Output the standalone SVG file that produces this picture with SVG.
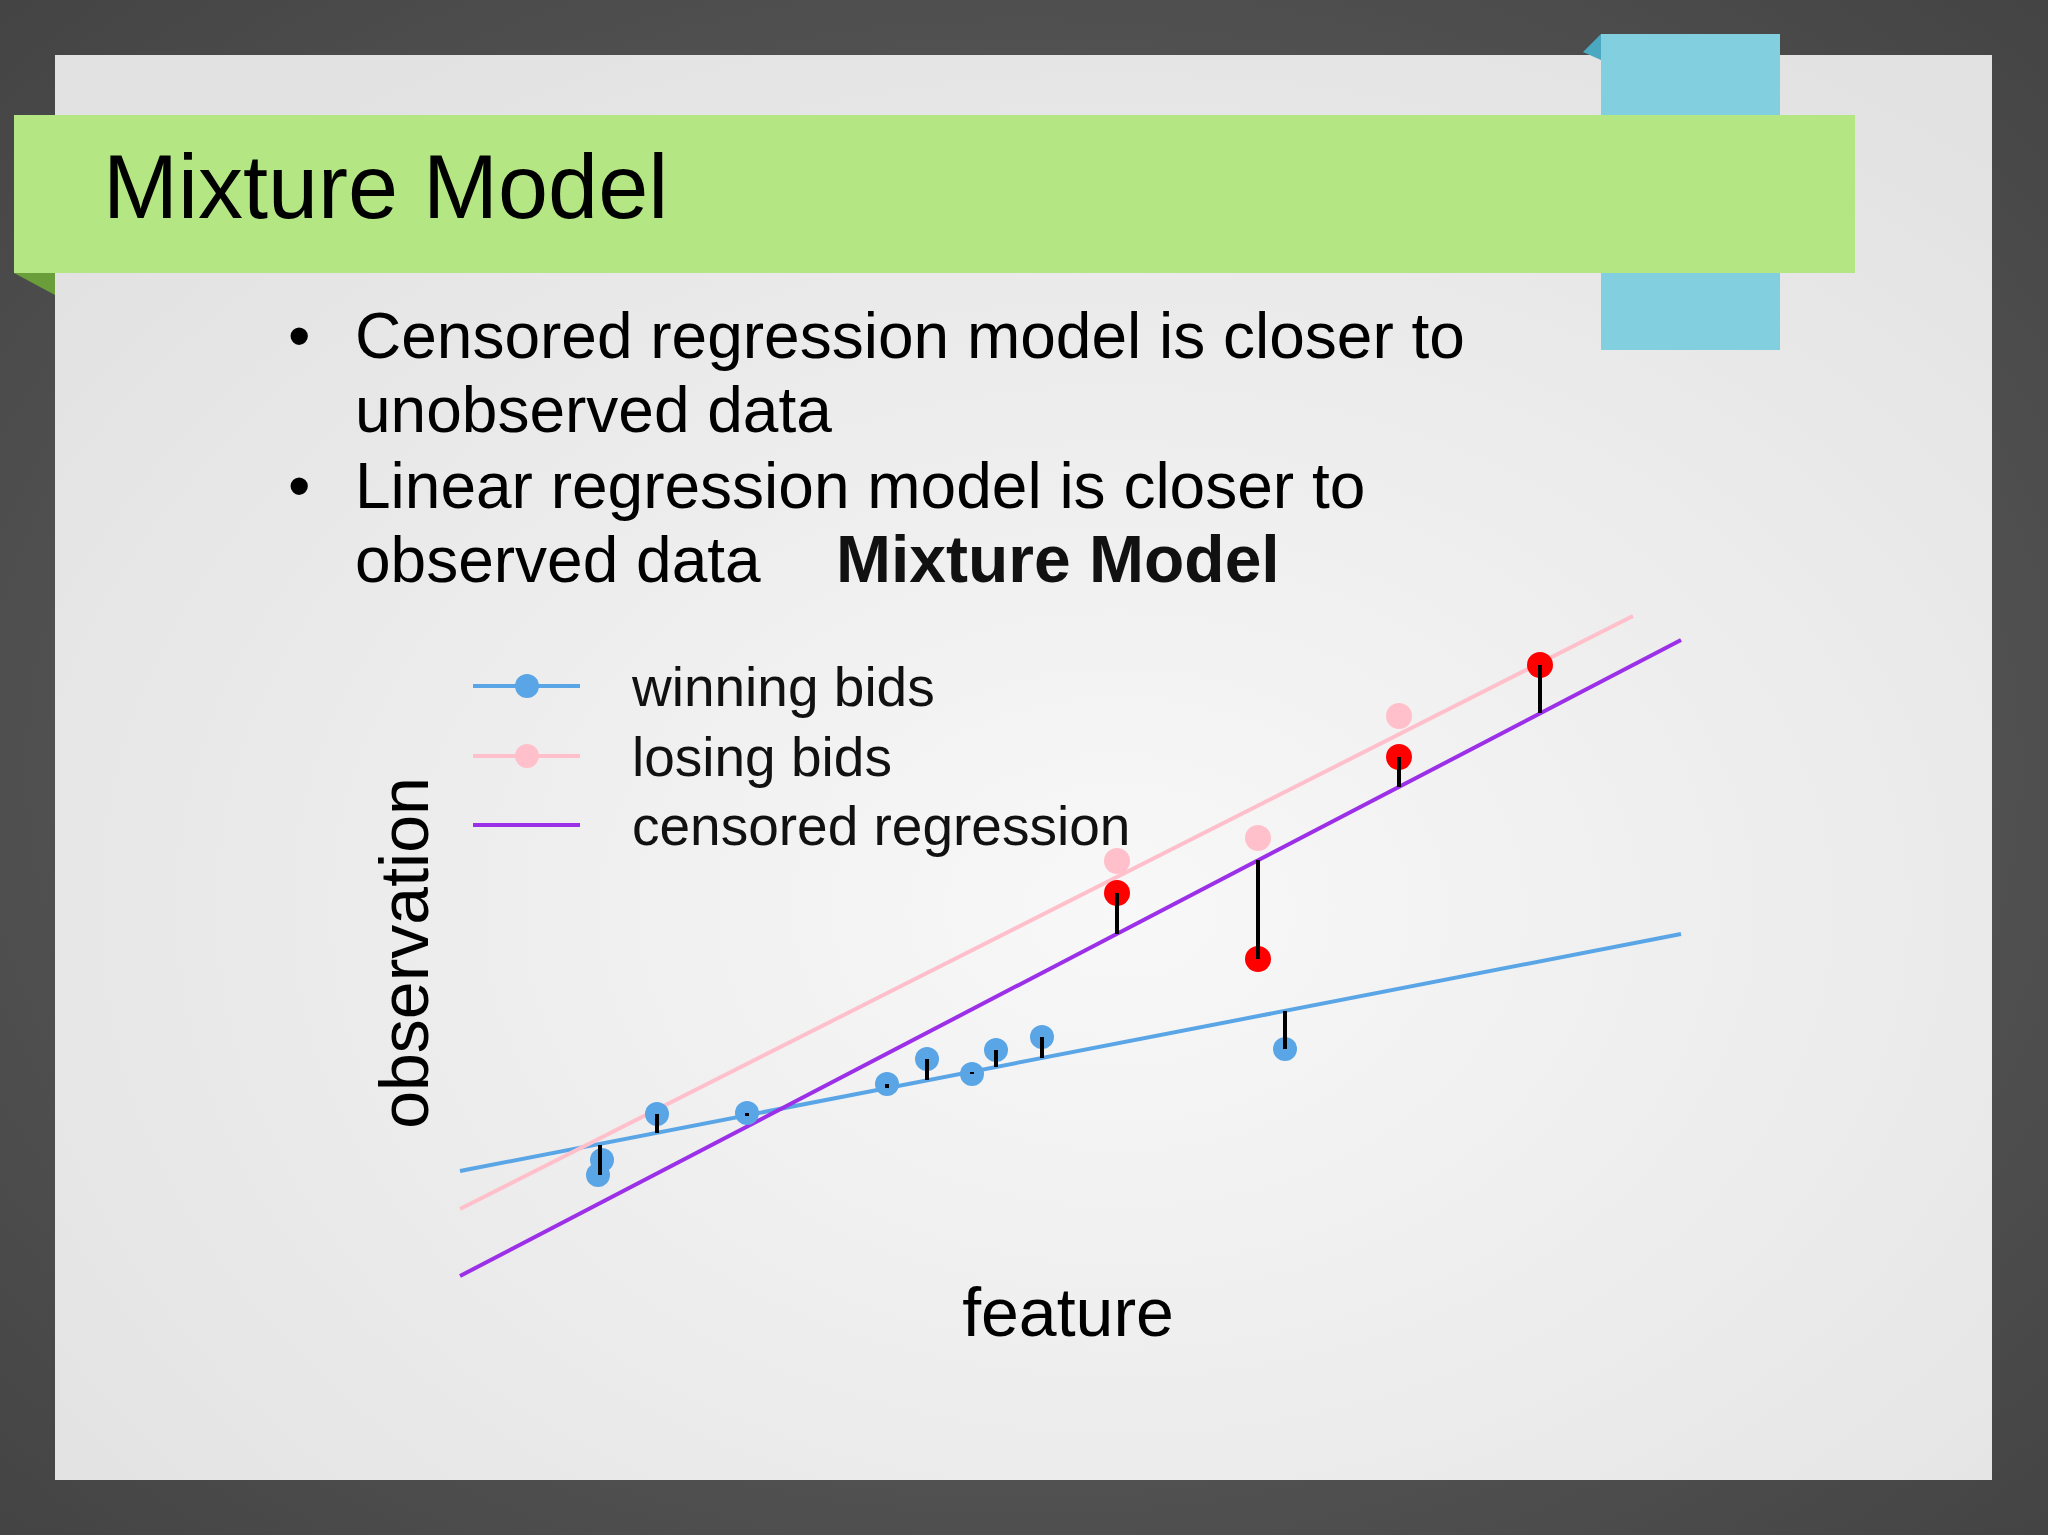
<svg xmlns="http://www.w3.org/2000/svg" width="2048" height="1535" viewBox="0 0 2048 1535">
<defs>
<radialGradient id="bg" cx="0.55" cy="0.6" r="0.7"><stop offset="0" stop-color="#f8f8f8"/><stop offset="1" stop-color="#e2e2e2"/></radialGradient>
<radialGradient id="outer" cx="0.5" cy="0.5" r="0.7"><stop offset="0" stop-color="#6a6a6a"/><stop offset="1" stop-color="#444"/></radialGradient>
<style>
.t{font-family:"Liberation Sans",Arial,sans-serif;fill:#000}
.b{font-size:64px}
.lg{font-size:55px;fill:#111}
.bl{fill:#5aa5e6}.rd{fill:#f00}.pk{fill:#ffc0cb}
.st{stroke:#000;stroke-width:4}
</style>
</defs>
<rect width="2048" height="1535" fill="url(#outer)"/>
<rect x="55" y="55" width="1937" height="1425" fill="url(#bg)"/>
<g id="teal"><polygon points="1583,52 1601,34 1601,60" fill="#4aa8c0"/><rect x="1601" y="34" width="179" height="316" fill="#82cfe0"/></g>
<g id="titlebar"><polygon points="14,273 55,273 55,295" fill="#6a9e3a"/><rect x="14" y="115" width="1841" height="158" fill="#b4e784"/>
<text class="t" x="103" y="218" font-size="90">Mixture Model</text></g>
<g id="bullets" class="t b">
<text x="288" y="358">•</text><text x="355" y="358">Censored regression model is closer to</text>
<text x="355" y="432">unobserved data</text>
<text x="288" y="508">•</text><text x="355" y="508">Linear regression model is closer to</text>
<text x="355" y="582">observed data</text>
<text x="836" y="582" font-weight="bold" font-size="66" fill="#111">Mixture Model</text>
</g>
<g id="legend">
<line x1="473" y1="686" x2="580" y2="686" stroke="#5aa5e6" stroke-width="4"/><circle cx="527" cy="686" r="12" class="bl"/>
<line x1="473" y1="756" x2="580" y2="756" stroke="#ffc0cb" stroke-width="4"/><circle cx="527" cy="756" r="12" class="pk"/>
<line x1="473" y1="825" x2="580" y2="825" stroke="#9b30e8" stroke-width="4"/>
<text class="t lg" x="632" y="706">winning bids</text>
<text class="t lg" x="632" y="776">losing bids</text>
<text class="t lg" x="632" y="845">censored regression</text>
</g>
<g id="axes" class="t" font-size="68" fill="#111">
<text transform="translate(428,953) rotate(-90)" text-anchor="middle">observation</text>
<text x="1068" y="1336" text-anchor="middle">feature</text>
</g>
<g id="connectors">
<line x1="460" y1="1171" x2="1681" y2="934" stroke="#5aa5e6" stroke-width="4"/>
<line x1="460" y1="1209" x2="1633" y2="616" stroke="#ffc0cb" stroke-width="4"/>
<line x1="460" y1="1276" x2="1681" y2="640" stroke="#9b30e8" stroke-width="4"/>
</g>
<g id="points">
<circle cx="598" cy="1175" r="12" class="bl"/><circle cx="602" cy="1160" r="12" class="bl"/>
<circle cx="657" cy="1114" r="12" class="bl"/><circle cx="747" cy="1113" r="12" class="bl"/>
<circle cx="887" cy="1084" r="12" class="bl"/><circle cx="927" cy="1059" r="12" class="bl"/>
<circle cx="972" cy="1074" r="12" class="bl"/><circle cx="996" cy="1050" r="12" class="bl"/>
<circle cx="1042" cy="1037" r="12" class="bl"/><circle cx="1285" cy="1049" r="12" class="bl"/>
<circle cx="1117" cy="861" r="13" class="pk"/><circle cx="1258" cy="838" r="13" class="pk"/><circle cx="1399" cy="716" r="13" class="pk"/>
<circle cx="1117" cy="893" r="13" class="rd"/><circle cx="1258" cy="959" r="13" class="rd"/><circle cx="1399" cy="757" r="13" class="rd"/><circle cx="1540" cy="665" r="13" class="rd"/>
<g class="st">
<line x1="600" y1="1175" x2="600" y2="1145"/><line x1="657" y1="1114" x2="657" y2="1133"/><line x1="747" y1="1113" x2="747" y2="1116"/>
<line x1="887" y1="1084" x2="887" y2="1088"/><line x1="927" y1="1059" x2="927" y2="1080"/><line x1="972" y1="1074" x2="972" y2="1072"/>
<line x1="996" y1="1050" x2="996" y2="1067"/><line x1="1042" y1="1037" x2="1042" y2="1058"/><line x1="1285" y1="1049" x2="1285" y2="1011"/>
<line x1="1117" y1="893" x2="1117" y2="934"/><line x1="1258" y1="959" x2="1258" y2="860"/><line x1="1399" y1="757" x2="1399" y2="787"/><line x1="1540" y1="665" x2="1540" y2="713"/>
</g>
</g>
</svg>
